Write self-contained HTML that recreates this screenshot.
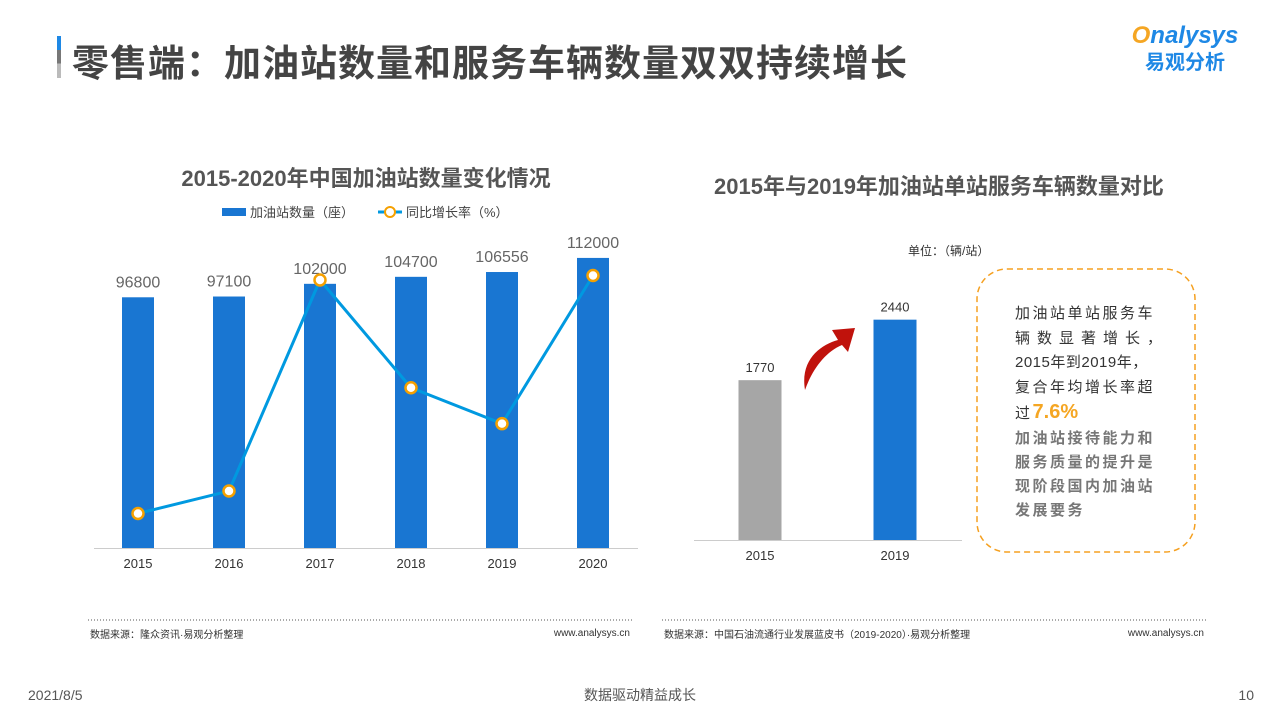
<!DOCTYPE html>
<html><head><meta charset="utf-8">
<style>
body{margin:0;width:1280px;height:720px;background:#fff;overflow:hidden;font-family:"Liberation Sans","Noto Sans CJK SC",sans-serif;position:relative}
.abs{position:absolute}
.n div{white-space:nowrap}
</style></head><body>
<div class="abs" style="left:57px;top:36px;width:4px;height:42px;background:linear-gradient(#1e88e5 0 33%,#777 33% 66%,#bbb 66%)"></div>
<div class="abs" style="left:72px;top:33px;font-size:37px;font-weight:bold;color:#444;letter-spacing:1px;white-space:nowrap">零售端：加油站数量和服务车辆数量双双持续增长</div>
<div class="abs" style="left:1122px;top:22px;text-align:center;width:126px">
<div style="font-size:24px;font-weight:bold;color:#1e88e5;font-style:italic"><span style="color:#f5a623">O</span>nalysys</div>
<div style="font-size:20px;font-weight:bold;color:#1e88e5;margin-top:-4px">易观分析</div></div>

<svg class="abs" style="left:0;top:0" width="1280" height="720">
<text x="366" y="186" text-anchor="middle" font-size="22" font-weight="bold" fill="#555">2015-2020年中国加油站数量变化情况</text>
<rect x="222" y="208" width="24" height="8" fill="#1976d2"/>
<text x="250" y="217" font-size="13" fill="#444">加油站数量（座）</text>
<line x1="378" y1="212" x2="402" y2="212" stroke="#0099e0" stroke-width="3"/>
<circle cx="390" cy="212" r="5" fill="#fff" stroke="#f5a000" stroke-width="2"/>
<text x="406" y="217" font-size="13" fill="#444">同比增长率（%）</text>
<line x1="94" y1="548.5" x2="638" y2="548.5" stroke="#ccc"/>
<g id="left"></g>
<text x="939" y="194" text-anchor="middle" font-size="22" font-weight="bold" fill="#555">2015年与2019年加油站单站服务车辆数量对比</text>
<text x="908" y="255" font-size="12" fill="#333">单位：（辆/站）</text>
<line x1="694" y1="540.5" x2="962" y2="540.5" stroke="#ccc"/>
<g id="right"></g>
<path d="M805 390 C800 360 820 345 838 340 L832 330 L855 328 L848 352 L842 345 C825 352 812 370 805 390 Z" fill="#c0120c"/>
<rect x="977" y="269" width="218" height="283" rx="30" fill="none" stroke="#f5a020" stroke-width="1.5" stroke-dasharray="6 4"/>
<line x1="88" y1="620" x2="632" y2="620" stroke="#555" stroke-dasharray="1 2"/>
<line x1="662" y1="620" x2="1206" y2="620" stroke="#555" stroke-dasharray="1 2"/>
<text x="90" y="638" font-size="10" fill="#333">数据来源：隆众资讯·易观分析整理</text>
<text x="630" y="636" font-size="10" fill="#333" text-anchor="end">www.analysys.cn</text>
<text x="664" y="638" font-size="10" fill="#333">数据来源：中国石油流通行业发展蓝皮书（2019-2020）·易观分析整理</text>
<text x="1204" y="636" font-size="10" fill="#333" text-anchor="end">www.analysys.cn</text>
<text x="28" y="700" font-size="14" fill="#555">2021/8/5</text>
<text x="640" y="700" font-size="14" fill="#555" text-anchor="middle">数据驱动精益成长</text>
<text x="1254" y="700" font-size="14" fill="#555" text-anchor="end">10</text>
</svg>
<div class="abs n" style="left:1015px;top:302px;font-size:15px;line-height:24.5px;color:#333;letter-spacing:2.5px">
<div>加油站单站服务车</div>
<div style="letter-spacing:7px">辆数显著增长，</div>
<div style="letter-spacing:0.5px">2015年到2019年，</div>
<div>复合年均增长率超</div>
<div>过<span style="color:#f5a623;font-size:20px;font-weight:bold;letter-spacing:0">7.6%</span></div>
<div style="color:#777;font-weight:bold;line-height:24px">加油站接待能力和<br>服务质量的提升是<br>现阶段国内加油站<br>发展要务</div></div>
<script>
const years=['2015','2016','2017','2018','2019','2020'];
const stations=[96800,97100,102000,104700,106556,112000];
const growth=[-0.2,0.3,5.0,2.6,1.8,5.1];
const years2=['2015','2019'];
const vehicles=[1770,2440];
const NS='http://www.w3.org/2000/svg';
function mk(t,a,p){const e=document.createElementNS(NS,t);for(const k in a)e.setAttribute(k,a[k]);p.appendChild(e);return e;}
const L=document.getElementById('left');
const lx=i=>138+i*91, ly=v=>548-v*0.00259, gy=v=>504.5-v*44.9;
years.forEach((y,i)=>{
 const r=mk('rect',{x:lx(i)-16,y:ly(stations[i]),width:32,height:548-ly(stations[i]),fill:'#1976d2'},L);
 
 
 const t=mk('text',{x:lx(i),y:ly(stations[i])-10,'text-anchor':'middle','font-size':16,fill:'#666'},L);t.textContent=stations[i];
 const xl=mk('text',{x:lx(i),y:568,'text-anchor':'middle','font-size':13,fill:'#333'},L);xl.textContent=y;
 
 
});
const pl=mk('polyline',{points:growth.map((g,i)=>lx(i)+','+gy(g)).join(' '),fill:'none',stroke:'#0099e0','stroke-width':3},L);


growth.forEach((g,i)=>{const c=mk('circle',{cx:lx(i),cy:gy(g),r:5.5,fill:'#fff',stroke:'#f5a000','stroke-width':2.5},L);
 
 });
const R=document.getElementById('right');
const rx=i=>760+i*135, ry=v=>540-v*0.0903;
years2.forEach((y,i)=>{
 const r=mk('rect',{x:rx(i)-21.5,y:ry(vehicles[i]),width:43,height:540-ry(vehicles[i]),fill:i?'#1976d2':'#a6a6a6'},R);
 
 
 const t=mk('text',{x:rx(i),y:ry(vehicles[i])-8,'text-anchor':'middle','font-size':13,fill:'#333'},R);t.textContent=vehicles[i];
 const xl=mk('text',{x:rx(i),y:560,'text-anchor':'middle','font-size':13,fill:'#333'},R);xl.textContent=y;
 
 
});
</script>
</body></html>
